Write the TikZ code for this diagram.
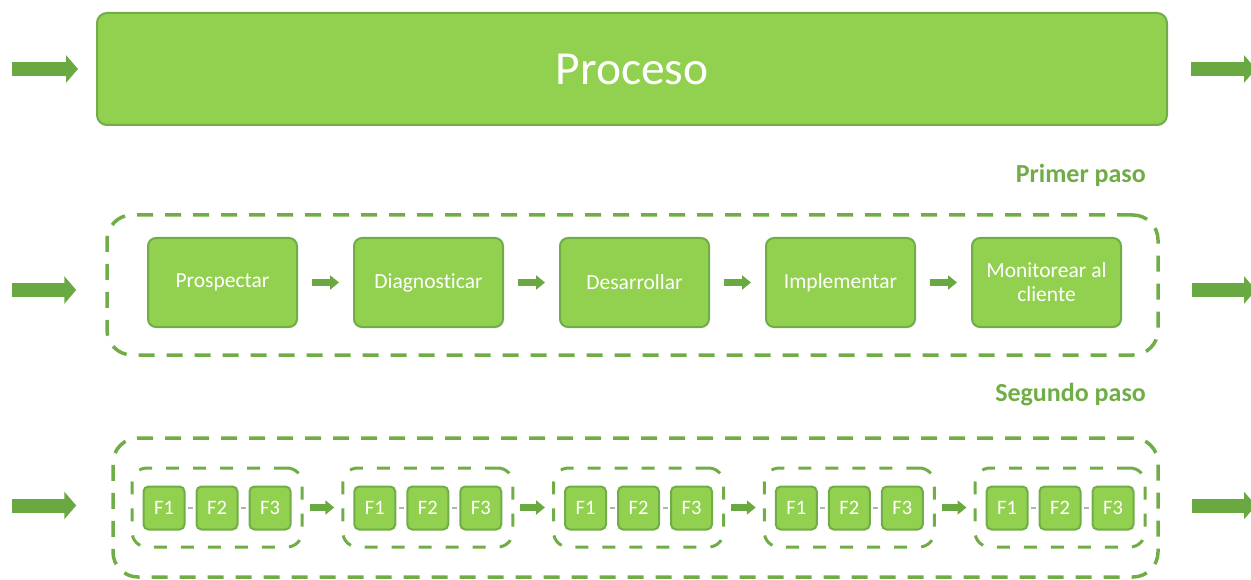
\documentclass[tikz,border=0pt]{standalone}
\usepackage{fontspec}
\setmainfont{Carlito}[Ligatures=NoCommon]
\usetikzlibrary{arrows.meta}
\definecolor{leafgreen}{HTML}{92D050}
\definecolor{darkleaf}{HTML}{70AD47}
\definecolor{arrowgreen}{HTML}{6AA842}
\begin{document}
\begin{tikzpicture}[x=1pt, y=-1pt,
        main_box/.style={draw=darkleaf, line width=2pt, fill=leafgreen, rounded corners=10pt, minimum width=1070pt, minimum height=112pt, text=white, font=\fontsize{47.5}{52}\selectfont},
        step_box/.style={draw=darkleaf, line width=2pt, fill=leafgreen, rounded corners=8pt, minimum width=149pt, minimum height=89pt, inner sep=0pt, align=center, text=white, font=\fontsize{21.5}{24}\selectfont},
        f_box/.style={draw=darkleaf, line width=2pt, fill=leafgreen, rounded corners=5pt, minimum width=41pt, minimum height=43pt, inner sep=0pt, text=white, font=\fontsize{20.5}{23}\selectfont},
        stage_frame/.style={draw=darkleaf, line width=3.5pt, dash pattern=on 16pt off 12pt, rounded corners=25pt},
        group_frame/.style={draw=darkleaf, line width=3pt, dash pattern=on 13pt off 14pt, rounded corners=15pt, minimum width=170pt, minimum height=79pt},
        stage_label/.style={anchor=east, inner sep=0pt, text=darkleaf, font=\fontsize{26}{29}\selectfont\bfseries},
        big_arrow/.style={arrowgreen, line width=14pt, -{Triangle[width=27pt, length=12pt]}},
        small_arrow/.style={arrowgreen, line width=7pt, -{Triangle[width=14pt, length=9pt]}},
        f_link/.style={draw=gray!60, line width=1.5pt, shorten <=2.5pt, shorten >=2.5pt}
    ]
        \useasboundingbox (0,0) rectangle (1251,580);

        % Process
        \node[main_box] (proc) at (632,69) {Proceso};
        \coordinate (in1) at (12,69);
        \coordinate (out1) at (1256,69);
        \draw[big_arrow, shorten >=18pt] (in1) -- (proc.west);
        \draw[big_arrow, shorten <=23pt] (proc.east) -- (out1);

        % First step
        \node[stage_label] (lab1) at (1146,175) {Primer paso};
        \node[stage_frame, minimum width=1051pt, minimum height=140pt] (stage1) at (632.5,285) {};
        \node[step_box] (s1) at (222.5,282.5) {Prospectar};
        \node[step_box] (s2) at (428.5,282.5) {Diagnosticar};
        \node[step_box] (s3) at (634.5,282.5) {Desarrollar};
        \node[step_box] (s4) at (840.5,282.5) {Implementar};
        \node[step_box] (s5) at (1046.5,282.5) {Monitorear al\\cliente};
        \draw[small_arrow, shorten <=14pt, shorten >=14pt] (s1) -- (s2);
        \draw[small_arrow, shorten <=14pt, shorten >=14pt] (s2) -- (s3);
        \draw[small_arrow, shorten <=14pt, shorten >=14pt] (s3) -- (s4);
        \draw[small_arrow, shorten <=14pt, shorten >=14pt] (s4) -- (s5);
        \coordinate (in2) at (12,290);
        \coordinate (out2) at (1256,290);
        \draw[big_arrow, shorten >=29pt] (in2) -- (in2 -| stage1.west);
        \draw[big_arrow, shorten <=32pt] (out2 -| stage1.east) -- (out2);

        % Second step
        \node[stage_label] (lab2) at (1146,395) {Segundo paso};
        \node[stage_frame, minimum width=1045pt, minimum height=139pt] (stage2) at (635.5,507.5) {};
        \foreach \g/\x in {1/217, 2/427.75, 3/638.5, 4/849.25, 5/1060} {
            \node[group_frame] (grp\g) at (\x,507.5) {};
            \node[f_box] (f\g-1) at (\x-53,508) {F1};
            \node[f_box] (f\g-2) at (\x,508) {F2};
            \node[f_box] (f\g-3) at (\x+53,508) {F3};
            \draw[f_link] (f\g-1) -- (f\g-2);
            \draw[f_link] (f\g-2) -- (f\g-3);
        }
        \foreach \a/\b in {1/2, 2/3, 3/4, 4/5}
            \draw[small_arrow, shorten <=6pt, shorten >=7pt] (grp\a) -- (grp\b);
        \coordinate (in3) at (12,505.5);
        \coordinate (out3) at (1256,505.5);
        \draw[big_arrow, shorten >=35pt] (in3) -- (in3 -| stage2.west);
        \draw[big_arrow, shorten <=32pt] (out3 -| stage2.east) -- (out3);
    \end{tikzpicture}
\end{document}
